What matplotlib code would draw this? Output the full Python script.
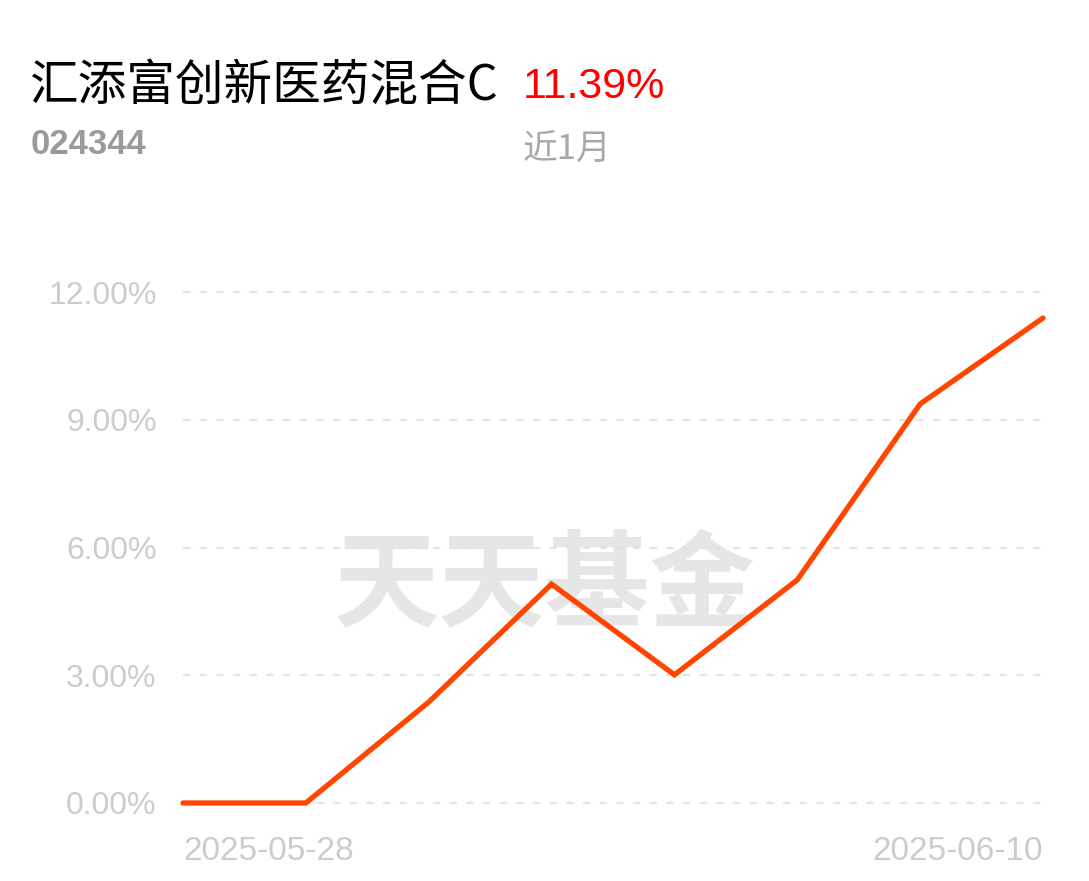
import matplotlib
matplotlib.use("Agg")
import matplotlib.pyplot as plt
from matplotlib import font_manager

# Datos (rendimiento acumulado, %)
fechas = ["2025-05-28", "2025-05-29", "2025-05-30", "2025-06-03",
          "2025-06-04", "2025-06-05", "2025-06-06", "2025-06-10"]
rendimiento = [0.0, 0.0, 2.37, 5.14, 3.01, 5.24, 9.37, 11.39]
ticks_y = [0.0, 3.0, 6.0, 9.0, 12.0]

nombre_fondo = "汇添富创新医药混合C"
codigo_fondo = "024344"
periodo = "近1月"
rend_periodo = "11.39%"

cjk = ["Noto Sans CJK SC", "DejaVu Sans"]
nombres = {f.name for f in font_manager.fontManager.ttflist}
latina = "Liberation Sans" if "Liberation Sans" in nombres else "DejaVu Sans"

W, H = 1089, 881
fig = plt.figure(figsize=(W / 100, H / 100), dpi=100)
fig.patch.set_facecolor("white")

x0, x1 = 183, 1043
y0, y1 = 803, 292
ax = fig.add_axes([x0 / W, (H - y0) / H, (x1 - x0) / W, (y0 - y1) / H])

xs = list(range(len(fechas)))
ax.set_xlim(0, len(fechas) - 1)
ax.set_ylim(0, 12)

for v in ticks_y:
    ax.axhline(v, color="#e3e3e3", lw=1.5, ls=(0, (3.5, 4.5)), zorder=1, clip_on=False)

ax.plot(xs, rendimiento, color="#ff4500", lw=3.8, solid_capstyle="round",
        solid_joinstyle="miter", zorder=3, clip_on=False)

# marca de agua
ax.text(0.421, 0.42, "天天基金", transform=ax.transAxes, ha="center", va="center",
        fontsize=76, fontweight="bold", color="#e6e6e6", family=cjk, zorder=0)

for s in ax.spines.values():
    s.set_visible(False)
ax.set_yticks(ticks_y)
ax.set_yticklabels([f"{v:.2f}%" for v in ticks_y])
ax.tick_params(axis="y", length=0, pad=19, labelsize=23, labelcolor="#cccccc")
ax.set_xticks([0, len(fechas) - 1])
ax.set_xticklabels([fechas[0], fechas[-1]])
ax.tick_params(axis="x", length=0, pad=24, labelsize=24, labelcolor="#cccccc")
for t in ax.get_yticklabels() + ax.get_xticklabels():
    t.set_family(latina)
xl = ax.get_xticklabels()
xl[0].set_ha("left")
xl[1].set_ha("right")

# cabecera
fig.text(30 / W, 1 - 86 / H, nombre_fondo, fontsize=35, family=cjk, color="black",
         ha="left", va="center")
fig.text(523 / W, 1 - 87 / H, rend_periodo, fontsize=31, family=latina, color="#ff0000",
         ha="left", va="center")
fig.text(31 / W, 1 - 144 / H, codigo_fondo, fontsize=25, family=latina, fontweight="bold",
         color="#9a9a9a", ha="left", va="center")
fig.text(523 / W, 1 - 150 / H, periodo, fontsize=25, family=cjk, color="#a8a8a8",
         ha="left", va="center")

plt.savefig("out.png", dpi=100)
